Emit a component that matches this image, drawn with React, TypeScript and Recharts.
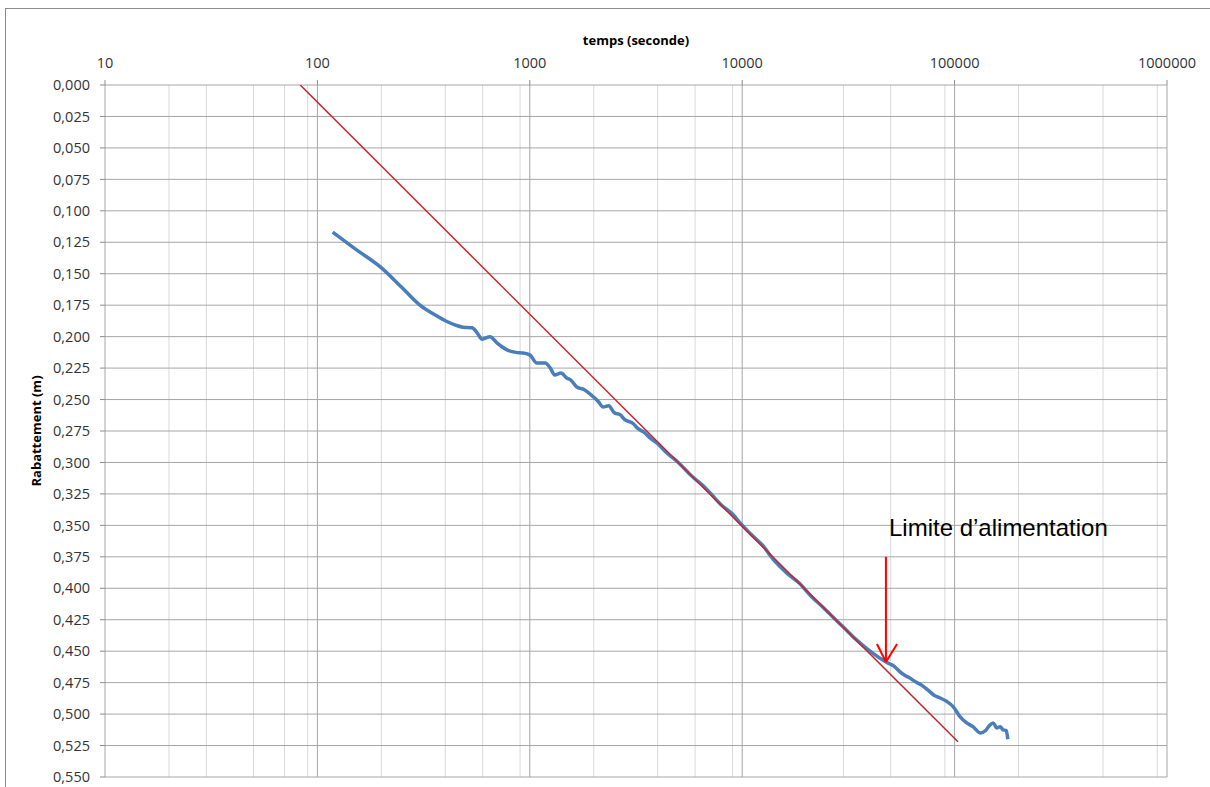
import { LineChart, Line, XAxis, YAxis, CartesianGrid, ReferenceLine } from "recharts";

// temps (s) / rabattement (m)
const mesureTemps = [
  118, 150, 201, 250, 304, 360, 407, 450, 485, 535, 565, 596, 650, 700, 781, 860, 930, 1000,
  1080, 1180, 1250, 1310, 1400, 1497, 1560, 1665, 1800, 1995, 2100, 2215, 2350, 2500, 2660,
  2800, 3065, 3200, 3450, 3680, 4000, 4420, 5000, 5800, 6400, 7050, 8000, 9000, 9770, 11000,
  12500, 14000, 16230, 18600, 21000, 24000, 26800, 30000, 34000, 40000, 48000, 52000, 55000,
  58000, 61000, 66500, 70000, 75000, 80000, 85000, 92000, 98400, 106000, 114000, 122000,
  132000, 140000, 146000, 152000, 158000, 164000, 169000, 175000, 178000,
];
const mesureRabattement = [
  0.117, 0.13, 0.1455, 0.161, 0.175, 0.183, 0.188, 0.191, 0.1925, 0.193, 0.197, 0.202, 0.2, 0.205,
  0.2105, 0.2125, 0.213, 0.2145, 0.221, 0.221, 0.225, 0.2305, 0.229, 0.233, 0.2345, 0.24, 0.242,
  0.248, 0.2515, 0.256, 0.255, 0.2605, 0.262, 0.266, 0.269, 0.2725, 0.276, 0.2805, 0.285, 0.2925,
  0.3, 0.311, 0.317, 0.324, 0.334, 0.341, 0.348, 0.357, 0.366, 0.377, 0.388, 0.396, 0.406, 0.415,
  0.423, 0.431, 0.44, 0.45, 0.459, 0.462, 0.466, 0.469, 0.471, 0.475, 0.477, 0.481, 0.485, 0.487,
  0.49, 0.494, 0.502, 0.507, 0.51, 0.515, 0.513, 0.509, 0.507, 0.511, 0.51, 0.5125, 0.513, 0.52,
];

// droite de Jacob
const droiteTemps = [83, 103700];
const droiteRabattement = [0, 0.522];

// flèche "Limite d'alimentation"
const flecheTemps = 47500;
const flecheHaut = 0.375;
const flechePointe = 0.4586;
const flecheAiles = [43100, 53600];
const flecheAilesY = 0.4443;

const decades = [10, 100, 1000, 10000, 100000, 1000000];
const sousGraduations = [2, 3, 4, 5, 6, 7, 8, 9];
const yTicks = [
  0, 0.025, 0.05, 0.075, 0.1, 0.125, 0.15, 0.175, 0.2, 0.225, 0.25, 0.275, 0.3, 0.325, 0.35,
  0.375, 0.4, 0.425, 0.45, 0.475, 0.5, 0.525, 0.55,
];

const mesures = mesureTemps.map((t, i) => ({ t, v: mesureRabattement[i] }));
const droite = droiteTemps.map((t, i) => ({ t, v: droiteRabattement[i] }));
const minorX = decades.slice(0, -1).flatMap((d) => sousGraduations.map((m) => d * m));

const axisFont = "'Open Sans', sans-serif";

export default function App() {
  return (
    <div style={{ position: "absolute", left: 0, top: 0, width: 1210, height: 787, overflow: "hidden", background: "#fff" }}>
      <div
        style={{
          position: "absolute",
          left: 5,
          top: 8,
          width: 1205,
          height: 779,
          borderTop: "1px solid #8c8c8c",
          borderLeft: "1px solid #8c8c8c",
          boxSizing: "border-box",
        }}
      />
      <LineChart
        width={1210}
        height={787}
        margin={{ top: 0, right: 43, bottom: 10, left: 0 }}
        style={{ position: "absolute", left: 0, top: 0 }}
      >
        <CartesianGrid vertical verticalValues={minorX} horizontal={false} stroke="#d9d9d9" strokeWidth={1} />
        <CartesianGrid verticalValues={decades} stroke="#a6a6a6" strokeWidth={1} />
        <XAxis
          dataKey="t"
          type="number"
          scale="log"
          domain={[10, 1000000]}
          ticks={decades}
          orientation="top"
          height={85}
          allowDataOverflow
          axisLine={false}
          tickLine={{ stroke: "#8c8c8c" }}
          tickSize={5}
          tickMargin={12}
          tick={{ fill: "#333", fontSize: 14.5, fontFamily: axisFont }}
          label={({ viewBox }: any) => (
            <text
              x={viewBox.x + viewBox.width / 2}
              y={45}
              textAnchor="middle"
              fontFamily={axisFont}
              fontWeight="bold"
              fontSize={13}
              fill="#000"
            >
              temps (seconde)
            </text>
          )}
        />
        <YAxis
          dataKey="v"
          type="number"
          domain={[0, 0.55]}
          reversed
          ticks={yTicks}
          width={105}
          allowDataOverflow
          axisLine={false}
          tickLine={{ stroke: "#8c8c8c" }}
          tickSize={5}
          tickMargin={10}
          tickFormatter={(v: number) => v.toFixed(3).replace(".", ",")}
          tick={{ fill: "#333", fontSize: 14.5, fontFamily: axisFont }}
          label={({ viewBox }: any) => (
            <text
              x={41}
              y={viewBox.y + viewBox.height / 2}
              textAnchor="middle"
              transform={`rotate(-90 41 ${viewBox.y + viewBox.height / 2})`}
              fontFamily={axisFont}
              fontWeight="bold"
              fontSize={13}
              fill="#000"
            >
              Rabattement (m)
            </text>
          )}
        />
        <Line
          data={mesures}
          dataKey="v"
          stroke="#4a7ebb"
          strokeWidth={3.5}
          dot={false}
          type="monotone"
          isAnimationActive={false}
        />
        <Line
          data={droite}
          dataKey="v"
          stroke="#c0282c"
          strokeWidth={1.5}
          dot={false}
          type="linear"
          isAnimationActive={false}
        />
        <ReferenceLine
          segment={[
            { x: flecheTemps, y: flecheHaut },
            { x: flecheTemps, y: flechePointe },
          ]}
          stroke="#ff0000"
          strokeWidth={2}
          ifOverflow="visible"
        />
        <ReferenceLine
          segment={[
            { x: flecheAiles[0], y: flecheAilesY },
            { x: flecheTemps, y: flechePointe },
          ]}
          stroke="#ff0000"
          strokeWidth={2}
          ifOverflow="visible"
        />
        <ReferenceLine
          segment={[
            { x: flecheAiles[1], y: flecheAilesY },
            { x: flecheTemps, y: flechePointe },
          ]}
          stroke="#ff0000"
          strokeWidth={2}
          ifOverflow="visible"
        />
      </LineChart>
      <div
        style={{
          position: "absolute",
          left: 889,
          top: 514,
          fontFamily: "'Liberation Sans', Arial, sans-serif",
          fontSize: 24,
          lineHeight: "28px",
          color: "#000",
          whiteSpace: "nowrap",
        }}
      >
        Limite d’alimentation
      </div>
    </div>
  );
}
